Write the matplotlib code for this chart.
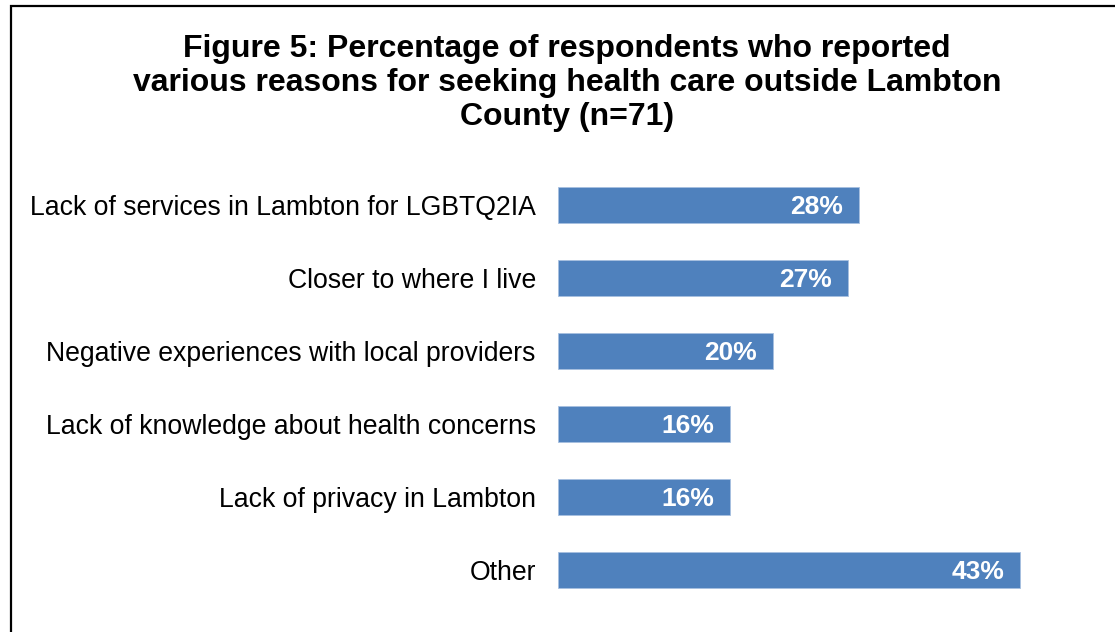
import matplotlib.pyplot as plt
from matplotlib.patches import Rectangle

plt.rcParams['font.family'] = ['Liberation Sans', 'DejaVu Sans']

reasons = [
    'Lack of services in Lambton for LGBTQ2IA',
    'Closer to where I live',
    'Negative experiences with local providers',
    'Lack of knowledge about health concerns',
    'Lack of privacy in Lambton',
    'Other',
]
percents = [28, 27, 20, 16, 16, 43]

W, H = 1115, 632
fig = plt.figure(figsize=(W / 100, H / 100), dpi=100)

# bar area in pixel terms: x from 558, 10.75 px per percent
ax = fig.add_axes([558 / W, 1 - 606.5 / H, 50 * 10.75 / W, 438 / H])
ypos = list(range(len(reasons)))
ax.barh(ypos, percents, height=0.5, color='#4F81BD', edgecolor='#A7C0E0', linewidth=0.6)
ax.set_xlim(0, 50)
ax.set_ylim(len(reasons) - 0.5, -0.5)
ax.set_yticks(ypos)
ax.set_yticklabels(reasons, fontsize=19.2)
ax.tick_params(axis='y', length=0, pad=16)
ax.set_xticks([])
for s in ax.spines.values():
    s.set_visible(False)

for y, p in zip(ypos, percents):
    ax.annotate(f'{p}%', xy=(p, y), xytext=(-16, -2), textcoords='offset pixels',
                ha='right', va='center', color='white', fontsize=19, fontweight='bold')

fig.text(567 / W, 1 - 83 / H,
         'Figure 5: Percentage of respondents who reported\n'
         'various reasons for seeking health care outside Lambton\n'
         'County (n=71)',
         ha='center', va='center', fontsize=23, fontweight='bold', linespacing=1.17)

# outer frame, running off the right and bottom edges
fig.patches.append(Rectangle((11 / W, -0.1), 1.2, 1 - 5.5 / H + 0.1,
                             transform=fig.transFigure, fill=False,
                             edgecolor='black', linewidth=1.6))

fig.savefig('out.png', dpi=100)
